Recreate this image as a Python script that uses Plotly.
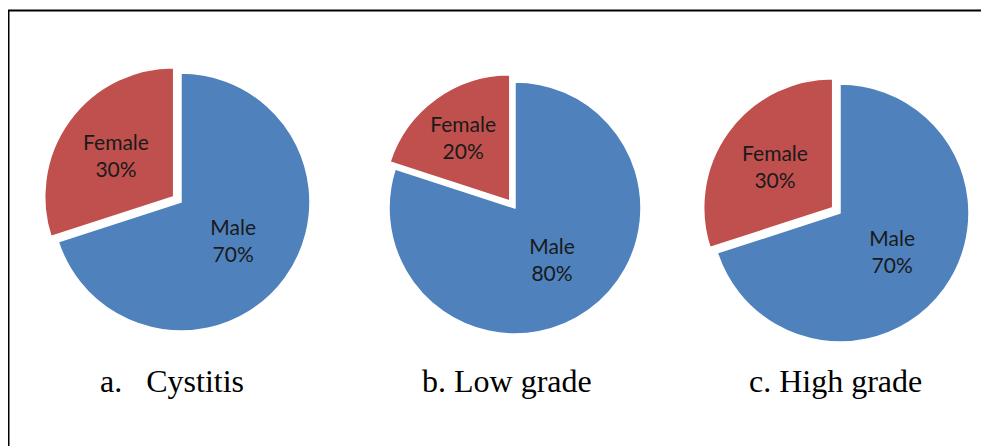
import plotly.graph_objects as go

W, H = 989, 446
OFF = 8  # page body margin offset in the screenshot

labels = ["Male", "Female"]
cystitis = [70, 30]
low_grade = [80, 20]
high_grade = [70, 30]
captions = ["a.\u00a0\u00a0\u00a0Cystitis", "b. Low grade", "c. High grade"]
series = [cystitis, low_grade, high_grade]

colors = ["#4F81BD", "#C0504D"]

# pie domains in pixels: (center x, center y from top, radius)
geo = [(181, 202, 129), (515, 208, 126), (840, 213, 129)]
pull = 0.07

fig = go.Figure()
for vals, (cx, cy, r) in zip(series, geo):
    cx -= OFF
    cy -= OFF
    half = r * (1 + pull)
    fig.add_trace(go.Pie(
        labels=labels, values=vals, sort=False, direction="clockwise", rotation=0,
        pull=[0, pull],
        marker=dict(colors=colors, line=dict(color="white", width=1.5)),
        texttemplate="%{label}<br>%{percent:.0%}", textposition="inside",
        insidetextorientation="horizontal",
        textfont=dict(family="Lato", size=21, color="#1a1a1a"),
        domain=dict(x=[(cx - half) / W, (cx + half) / W],
                    y=[(H - cy - half) / H, (H - cy + half) / H]),
        showlegend=False, hoverinfo="label+percent",
    ))

cap_x = [172, 507, 835]
for t, x in zip(captions, cap_x):
    fig.add_annotation(text=t, x=(x - OFF) / W, y=1 - (381 - OFF) / H,
                       xref="paper", yref="paper",
                       showarrow=False, xanchor="center", yanchor="middle",
                       font=dict(family="Liberation Serif", size=32, color="black"))

fig.add_shape(type="rect", xref="paper", yref="paper",
              x0=0.5 / W, x1=1.05, y0=-0.05, y1=1 - 2.5 / H,
              line=dict(color="black", width=2), fillcolor="rgba(0,0,0,0)")

fig.update_layout(width=W, height=H, margin=dict(l=0, r=0, t=0, b=0),
                  paper_bgcolor="white", plot_bgcolor="white")
fig.write_html("out.html")
